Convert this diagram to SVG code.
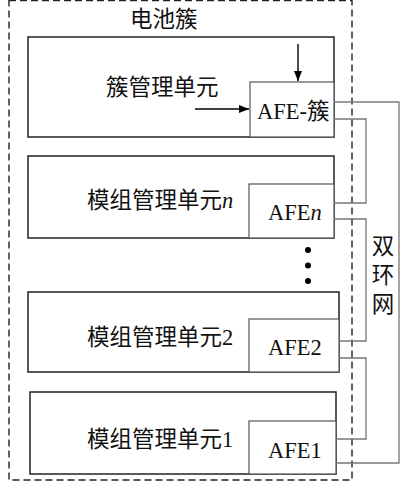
<svg xmlns="http://www.w3.org/2000/svg" width="400" height="485" viewBox="0 0 400 485">
<defs>
<marker id="ah" viewBox="0 0 10 8" refX="10" refY="4" markerWidth="10" markerHeight="8" markerUnits="userSpaceOnUse" orient="auto"><path d="M0,0 L10,4 L0,8 Z" fill="#000"/></marker>
</defs>
<style>
.box{fill:#fff;stroke:#222;stroke-width:1.5}
.afe{fill:#fff;stroke:#555;stroke-width:1.2}
.cn{font-family:"Liberation Serif","Noto Sans CJK SC",serif;font-size:22.5px;fill:#111}
.lat{font-family:"Liberation Serif","Noto Sans CJK SC",serif;font-size:22.5px;fill:#111}
.wire{fill:none;stroke:#777;stroke-width:1.3}
.arr{fill:none;stroke:#000;stroke-width:1.4}
</style>
<rect x="9" y="0.5" width="343" height="479.5" fill="none" stroke="#222" stroke-width="1.4" stroke-dasharray="7,4"/>
<text class="cn" x="130" y="27">电池簇</text>
<g id="cluster">
<rect class="box" x="28" y="37" width="306" height="100"/>
<text class="cn" x="106" y="95">簇管理单元</text>
<rect class="afe" x="250" y="82" width="84" height="55"/>
<text class="lat" x="257" y="119">AFE-簇</text>
</g>
<g id="module-n">
<rect class="box" x="28" y="156" width="306" height="82"/>
<text class="cn" x="87" y="208">模组管理单元<tspan font-style="italic">n</tspan></text>
<rect class="afe" x="249" y="184" width="85" height="54"/>
<text class="lat" x="268" y="220">AFE<tspan font-style="italic">n</tspan></text>
</g>
<g id="dots" fill="#000">
<circle cx="308" cy="250" r="3"/>
<circle cx="308" cy="265.5" r="3"/>
<circle cx="308" cy="281" r="3"/>
</g>
<g id="module-2">
<rect class="box" x="28" y="292" width="311" height="80"/>
<text class="cn" x="87" y="345">模组管理单元2</text>
<rect class="afe" x="249" y="319" width="90" height="53"/>
<text class="lat" x="268" y="355">AFE2</text>
</g>
<g id="module-1">
<rect class="box" x="30" y="392" width="306" height="82"/>
<text class="cn" x="87" y="447">模组管理单元1</text>
<rect class="afe" x="249" y="421" width="87" height="53"/>
<text class="lat" x="268" y="458">AFE1</text>
</g>
<g id="ring-label">
<text class="cn" x="383" y="254" text-anchor="middle">双</text>
<text class="cn" x="383" y="283" text-anchor="middle">环</text>
<text class="cn" x="383" y="312" text-anchor="middle">网</text>
</g>
<g id="connectors">
<line class="arr" x1="298" y1="44" x2="298" y2="81" marker-end="url(#ah)"/>
<line class="arr" x1="195" y1="109" x2="249" y2="109" marker-end="url(#ah)"/>
<polyline class="wire" points="334,102 399,102 399,463 336,463"/>
<polyline class="wire" points="334,119 366,119 366,203 334,203"/>
<polyline class="wire" points="334,219 366,219 366,341 339,341"/>
<polyline class="wire" points="339,358 366,358 366,439 336,439"/>
</g>
</svg>
